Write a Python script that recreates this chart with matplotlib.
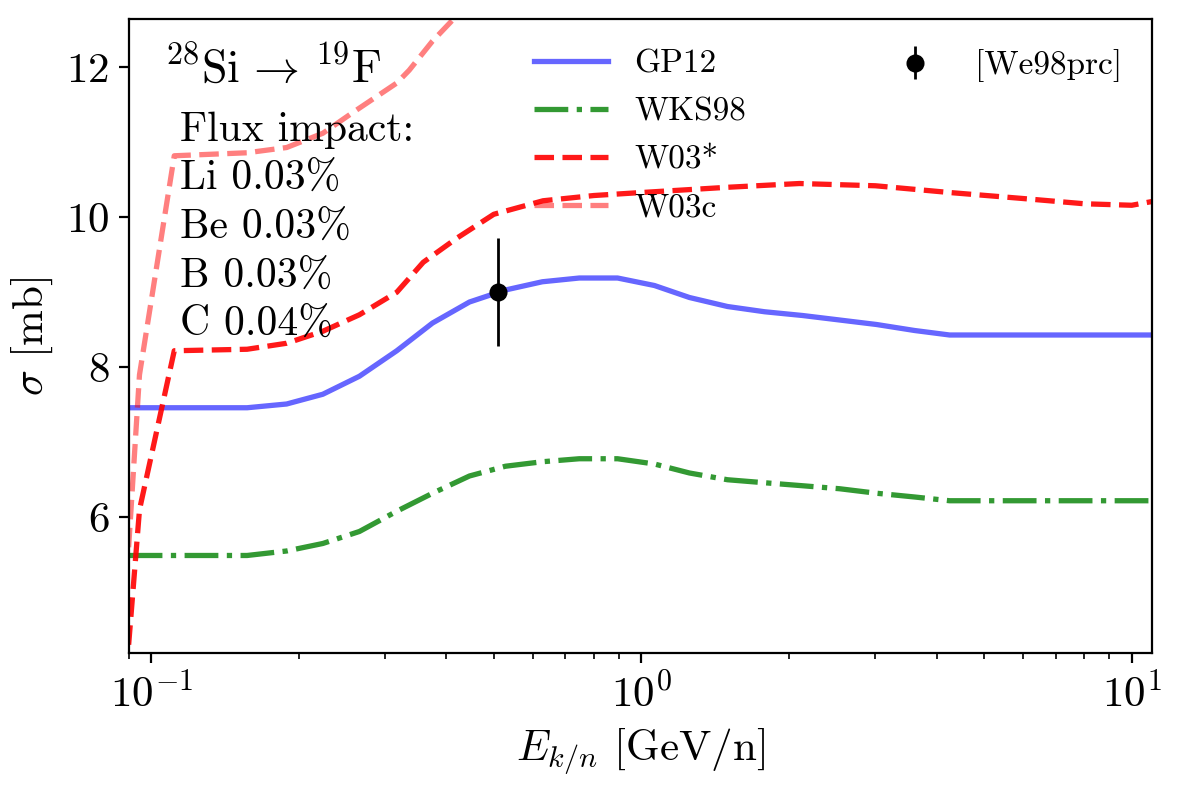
import numpy as np
import matplotlib
matplotlib.use("Agg")
import matplotlib.pyplot as plt

plt.rcParams['font.family'] = 'serif'
plt.rcParams['font.serif'] = ['cmr10']
plt.rcParams['mathtext.fontset'] = 'cm'
plt.rcParams['axes.formatter.use_mathtext'] = True

# energies (GeV/n) shared by GP12 and WKS98
e_grid = [0.09, 0.157, 0.189, 0.224, 0.266, 0.317, 0.375, 0.446, 0.528, 0.628,
          0.747, 0.894, 1.063, 1.253, 1.498, 1.783, 2.131, 2.536, 3.017, 3.607,
          4.252, 11.0]
gp12 = [7.46, 7.46, 7.51, 7.64, 7.88, 8.22, 8.59, 8.87, 9.03, 9.14,
        9.19, 9.19, 9.09, 8.93, 8.81, 8.74, 8.69, 8.63, 8.57, 8.49,
        8.43, 8.43]
wks98 = [5.49, 5.49, 5.55, 5.65, 5.81, 6.08, 6.32, 6.55, 6.68, 6.74,
         6.78, 6.78, 6.71, 6.59, 6.50, 6.46, 6.42, 6.38, 6.32, 6.27,
         6.22, 6.22]

# W03* (red dashed)
e_w03 = [0.09, 0.0947, 0.1115, 0.157, 0.189, 0.224, 0.266, 0.317, 0.359, 0.42,
         0.50, 0.63, 0.80, 1.0, 1.5, 2.1, 3.0, 4.25, 6.0, 8.0, 10.0, 11.0]
w03 = [4.30, 6.10, 8.22, 8.24, 8.32, 8.48, 8.70, 9.00, 9.40, 9.72,
       10.04, 10.22, 10.29, 10.33, 10.40, 10.45, 10.42, 10.33, 10.25, 10.18,
       10.16, 10.21]

# W03c (light red dashed)
e_w03c = [0.09, 0.0947, 0.1115, 0.157, 0.189, 0.224, 0.257, 0.317, 0.336, 0.375,
          0.412, 0.446, 0.528]
w03c = [5.6, 7.9, 10.82, 10.86, 10.93, 11.12, 11.39, 11.79, 11.96, 12.35,
        12.63, 12.9, 13.3]

# data point
e_data = [0.51]
sig_data = [9.0]
err_data = [0.72]

fig = plt.figure(figsize=(5.885, 3.935), dpi=200)
ax = fig.add_axes([0.1093, 0.1703, 0.8695, 0.8052])

l1, = ax.plot(e_grid, gp12, color='blue', alpha=0.6, lw=1.9, label='GP12')
l2, = ax.plot(e_grid, wks98, color='green', alpha=0.8, lw=1.9, ls='-.', label='WKS98')
l3, = ax.plot(e_w03, w03, color='red', alpha=0.9, lw=1.9, ls='--', label='W03*')
l4, = ax.plot(e_w03c, w03c, color='red', alpha=0.5, lw=1.9, ls='--', label='W03c')
eb = ax.errorbar(e_data, sig_data, yerr=err_data, fmt='o', color='black',
                 ms=5.5, elinewidth=1, label='[We98prc]')

ax.set_xscale('log')
ax.set_xlim(0.09, 11)
ax.set_ylim(4.19, 12.64)
ax.set_yticks([6, 8, 10, 12])
ax.tick_params(labelsize=15.5)

ax.set_xlabel(r'$E_{k/n}$ [GeV/n]', fontsize=15.5)
ax.set_ylabel(r'$\sigma$ [mb]', fontsize=15.5)

ax.text(0.035, 0.958, r'$^{28}$Si$\,\rightarrow\,^{19}$F', transform=ax.transAxes,
        fontsize=16.5, va='top', ha='left')
ax.text(0.05, 0.855, 'Flux impact:\nLi 0.03%\nBe 0.03%\nB 0.03%\nC 0.04%',
        transform=ax.transAxes, fontsize=15, va='top', ha='left', linespacing=1.38)

leg1 = ax.legend(handles=[l1, l2, l3, l4], loc='upper center', frameon=False,
                 fontsize=12, labelspacing=0.56, handlelength=2.2)
ax.add_artist(leg1)
ax.legend(handles=[eb], loc='upper right', frameon=False, fontsize=12)

fig.savefig('out.png', dpi=200)
